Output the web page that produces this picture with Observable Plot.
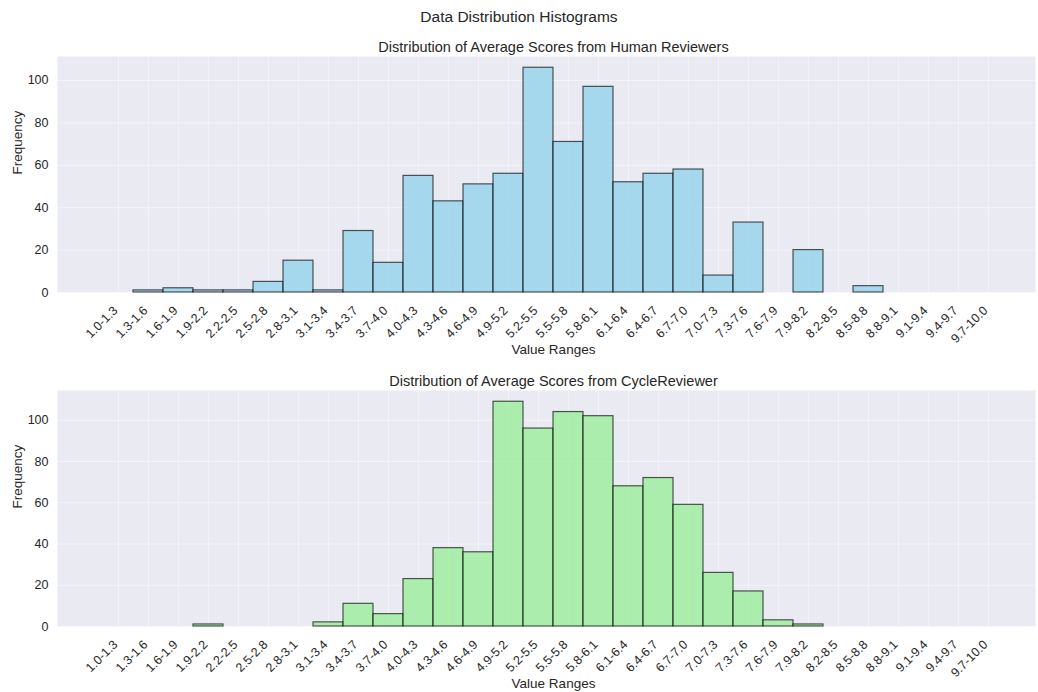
<!DOCTYPE html>
<html>
<head>
<meta charset="utf-8">
<script src="https://cdn.jsdelivr.net/npm/d3@7"></script>
<script src="https://cdn.jsdelivr.net/npm/@observablehq/plot@0.6"></script>
<style>
  html, body { margin: 0; padding: 0; background: #fff; overflow: hidden; }
  body { width: 1038px; height: 692px; font-family: "Liberation Sans", Arial, sans-serif; }
  #sup { height: 30px; line-height: 34px; text-align: center; font-size: 15.5px; color: #262626; }
  svg { display: block; }
</style>
</head>
<body>
<div id="sup">Data Distribution Histograms</div>
<div id="p1"></div>
<div id="p2"></div>
<script>
const binLabels = ["1.0-1.3","1.3-1.6","1.6-1.9","1.9-2.2","2.2-2.5","2.5-2.8","2.8-3.1","3.1-3.4","3.4-3.7","3.7-4.0",
  "4.0-4.3","4.3-4.6","4.6-4.9","4.9-5.2","5.2-5.5","5.5-5.8","5.8-6.1","6.1-6.4","6.4-6.7","6.7-7.0",
  "7.0-7.3","7.3-7.6","7.6-7.9","7.9-8.2","8.2-8.5","8.5-8.8","8.8-9.1","9.1-9.4","9.4-9.7","9.7-10.0"];
const humanCounts = [0,1,2,1,1,5,15,1,29,14,55,43,51,56,106,71,97,52,56,58,8,33,0,20,0,3,0,0,0,0];
const cycleCounts = [0,0,0,1,0,0,0,2,11,6,23,38,36,109,96,104,102,68,72,59,26,17,3,1,0,0,0,0,0,0];
const yTicks = [0,20,40,60,80,100];
const titles = ["Distribution of Average Scores from Human Reviewers", "Distribution of Average Scores from CycleReviewer"];
const fills = ["skyblue", "lightgreen"];

function panel(counts, title, fill, height, marginBottom) {
  const data = binLabels.map((b, i) => ({bin: b, count: counts[i]}));
  const ymax = d3.max(counts) * 1.05;
  return Plot.plot({
    width: 1038,
    height,
    marginTop: 26,
    marginBottom,
    marginLeft: 57,
    marginRight: 3,
    style: {fontFamily: "'Liberation Sans', Arial, sans-serif", color: "#262626", background: "#fff", overflow: "visible"},
    x: {type: "band", domain: binLabels, padding: 0, insetLeft: 46, insetRight: 32, axis: null},
    y: {domain: [0, ymax], axis: null},
    marks: [
      Plot.frame({fill: "#EAEAF2", stroke: null}),
      Plot.gridX({stroke: "white", strokeOpacity: 0.4, strokeWidth: 1}),
      Plot.gridY(yTicks, {stroke: "white", strokeOpacity: 0.45, strokeWidth: 1}),
      Plot.barY(data, {x: "bin", y: "count", fill, fillOpacity: 0.7, stroke: "black", strokeOpacity: 0.65, strokeWidth: 1.2}),
      Plot.axisY(yTicks, {tickSize: 0, tickPadding: 9, fontSize: 12.5, label: null, fill: "#262626"}),
      Plot.axisX({tickSize: 0, tickPadding: 16, tickRotate: -45, dx: -3, fontSize: 12.5, label: null, fill: "#262626"}),
      Plot.text([title], {frameAnchor: "top", dx: 7, dy: -15, fontSize: 14.5, fill: "#262626"}),
      Plot.text(["Value Ranges"], {frameAnchor: "bottom", dx: 7, dy: 61, fontSize: 13.5, fill: "#262626"}),
      Plot.text(["Frequency"], {frameAnchor: "left", dx: -40, rotate: -90, fontSize: 13.5, fill: "#262626"})
    ]
  });
}
document.getElementById("p1").append(panel(humanCounts, titles[0], fills[0], 334, 72));
document.getElementById("p2").append(panel(cycleCounts, titles[1], fills[1], 328, 66));
</script>
</body>
</html>
